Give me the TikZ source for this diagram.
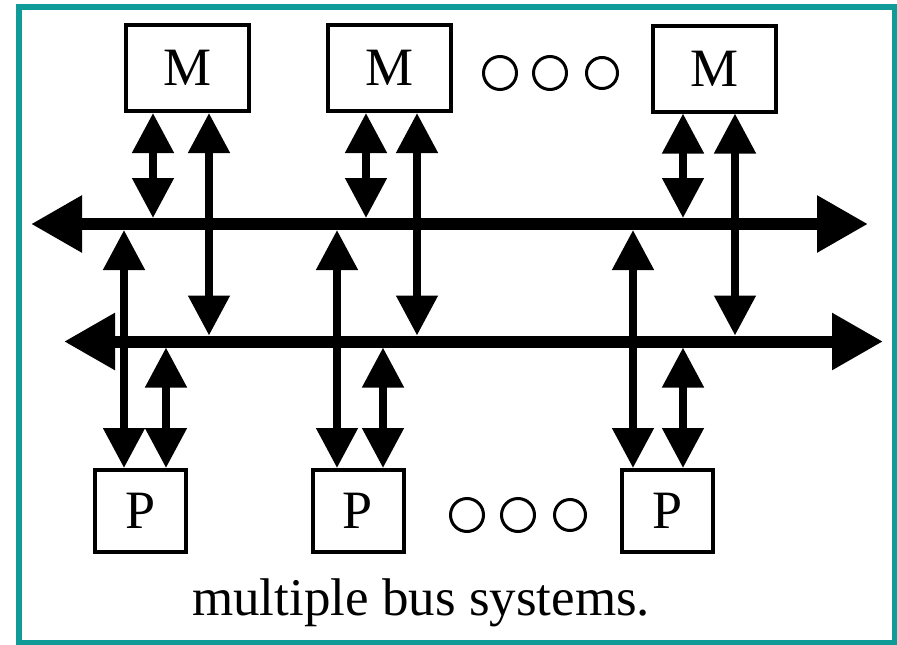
\documentclass[tikz,border=0pt]{standalone}
\usepackage{fontspec}
\setmainfont{Liberation Serif}
\usetikzlibrary{arrows.meta}
\definecolor{frameteal}{RGB}{16,154,152}
\begin{document}
\begin{tikzpicture}[x=1pt,y=-1pt,
  unit/.style={draw, line width=4pt, inner sep=0pt, fill=white,
    font=\fontsize{54}{60}\selectfont},
  mem/.style={unit, minimum width=123pt, minimum height=86pt},
  proc/.style={unit, minimum width=91pt, minimum height=82pt},
  bushead/.tip={Triangle[length=51pt,width=54pt]},
  linkhead/.tip={Triangle[length=40pt,width=40pt]},
  bus/.style={line width=12pt, bushead-bushead},
  link/.style={line width=8pt, linkhead-linkhead},
  dot/.style={draw, circle, line width=3pt, inner sep=0pt, minimum size=33pt}]
  \useasboundingbox (0,0) rectangle (897,645);
  % outer frame
  \draw[frameteal, line width=5.5pt] (19,7) rectangle (895,643);

  % memory modules
  \node[mem] (M1) at (187.5,68) {M};
  \node[mem] (M2) at (389.5,68) {M};
  \node[mem] (M3) at (714,68.5) {M};
  % processors
  \node[proc] (P1) at (140.5,511) {P};
  \node[proc] (P2) at (358,511) {P};
  \node[proc] (P3) at (667.5,511) {P};

  % ellipsis circles
  \node[dot] (mdot1) at (500,73) {};
  \node[dot] (mdot2) at (550,73) {};
  \node[dot, minimum size=31pt] (mdot3) at (602,73) {};
  \node[dot] (pdot1) at (467,515) {};
  \node[dot] (pdot2) at (518,515) {};
  \node[dot, minimum size=31pt] (pdot3) at (570,515) {};

  % bus end points
  \coordinate (b1L) at (31,224);
  \coordinate (b1R) at (868,224);
  \coordinate (b2L) at (64,341.5);
  \coordinate (b2R) at (883,341.5);

  % tap points on the bus edges
  \coordinate (m1s) at (153,218);   \coordinate (m1l) at (209,335.5);
  \coordinate (m2s) at (366,218);   \coordinate (m2l) at (417,335.5);
  \coordinate (m3s) at (683,218);   \coordinate (m3l) at (735,335.5);
  \coordinate (p1l) at (124,230);   \coordinate (p1s) at (166,347.5);
  \coordinate (p2l) at (337,230);   \coordinate (p2s) at (383,347.5);
  \coordinate (p3l) at (633,230);   \coordinate (p3s) at (683,347.5);

  % memory links
  \draw[link] (M1.south -| m1s) -- (m1s);
  \draw[link] (M1.south -| m1l) -- (m1l);
  \draw[link] (M2.south -| m2s) -- (m2s);
  \draw[link] (M2.south -| m2l) -- (m2l);
  \draw[link] (M3.south -| m3s) -- (m3s);
  \draw[link] (M3.south -| m3l) -- (m3l);
  % processor links
  \draw[link] (p1l) -- (P1.north -| p1l);
  \draw[link] (p1s) -- (P1.north -| p1s);
  \draw[link] (p2l) -- (P2.north -| p2l);
  \draw[link] (p2s) -- (P2.north -| p2s);
  \draw[link] (p3l) -- (P3.north -| p3l);
  \draw[link] (p3s) -- (P3.north -| p3s);

  % the two buses
  \draw[bus] (b1L) -- (b1R);
  \draw[bus] (b2L) -- (b2R);

  % caption
  \node[anchor=base west, inner sep=0pt, font=\fontsize{53}{60}\selectfont]
    (caption) at (192,615) {multiple bus systems.};
\end{tikzpicture}
\end{document}
